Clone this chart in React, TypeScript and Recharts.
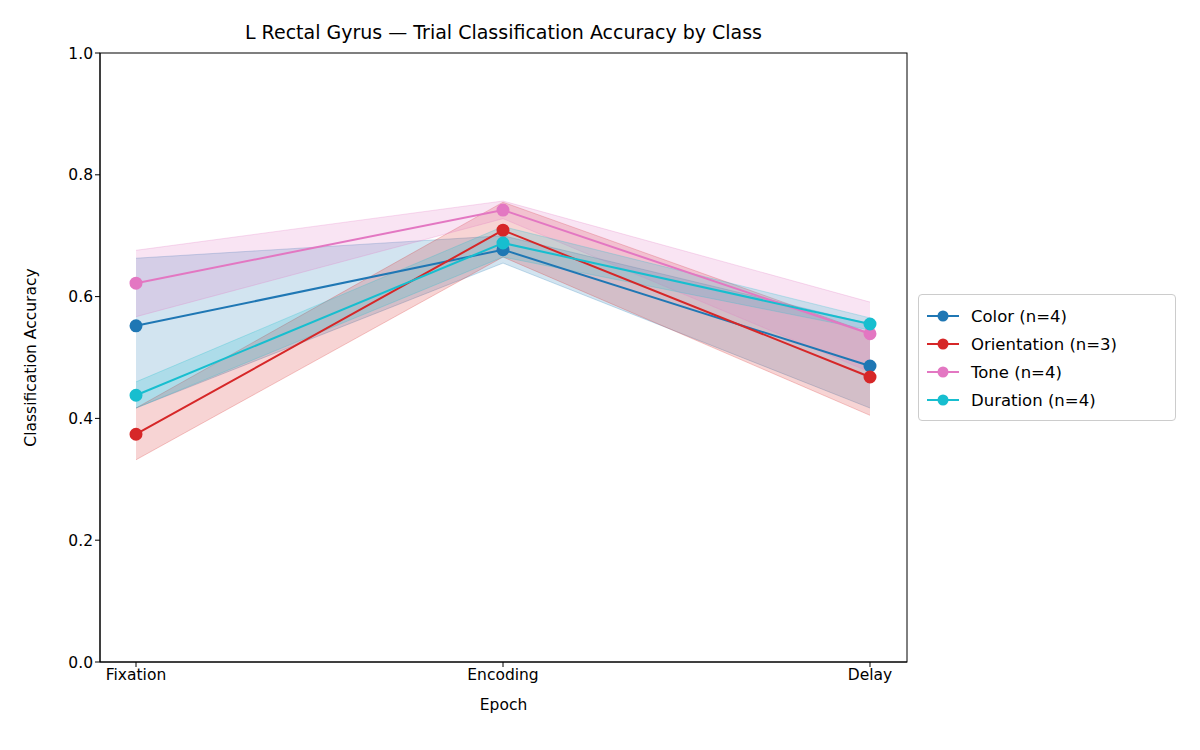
import { ComposedChart, Line, Area, XAxis, YAxis, Label } from "recharts";

const epochs = ["Fixation", "Encoding", "Delay"];

const colorMean = [0.552, 0.677, 0.486];
const colorLo = [0.417, 0.655, 0.417];
const colorHi = [0.663, 0.7, 0.555];

const orientMean = [0.374, 0.709, 0.468];
const orientLo = [0.332, 0.665, 0.405];
const orientHi = [0.417, 0.755, 0.54];

const toneMean = [0.622, 0.742, 0.539];
const toneLo = [0.567, 0.728, 0.476];
const toneHi = [0.676, 0.757, 0.591];

const durMean = [0.438, 0.688, 0.555];
const durLo = [0.417, 0.665, 0.545];
const durHi = [0.46, 0.715, 0.565];

const series = [
  { key: "color", name: "Color (n=4)", stroke: "#1f77b4", mean: colorMean, lo: colorLo, hi: colorHi },
  { key: "orient", name: "Orientation (n=3)", stroke: "#d62728", mean: orientMean, lo: orientLo, hi: orientHi },
  { key: "tone", name: "Tone (n=4)", stroke: "#e377c2", mean: toneMean, lo: toneLo, hi: toneHi },
  { key: "dur", name: "Duration (n=4)", stroke: "#17becf", mean: durMean, lo: durLo, hi: durHi },
];

const data = epochs.map((epoch, i) => {
  const row: Record<string, unknown> = { epoch };
  series.forEach((s) => {
    row[s.key] = s.mean[i];
    row[s.key + "Band"] = [s.lo[i], s.hi[i]];
  });
  return row;
});

const font = "DejaVu Sans, sans-serif";

export default function App() {
  return (
    <div style={{ position: "absolute", left: 0, top: 0, width: 1200, height: 750, background: "#fff", fontFamily: font }}>
      <div style={{ position: "absolute", top: 21, left: 100, width: 807, textAlign: "center", fontSize: 19, color: "#000" }}>
        L Rectal Gyrus — Trial Classification Accuracy by Class
      </div>
      <ComposedChart width={1200} height={750} data={data} margin={{ top: 53, right: 293, bottom: 58, left: 40 }}>
        <XAxis
          dataKey="epoch"
          height={30}
          padding={{ left: 36, right: 37 }}
          stroke="#000"
          tick={{ fill: "#000", fontSize: 15.5, fontFamily: font }}
          tickSize={5}
        >
          <Label value="Epoch" position="insideBottom" offset={-18} style={{ fill: "#000", fontSize: 15.5, fontFamily: font }} />
        </XAxis>
        <YAxis
          domain={[0, 1]}
          ticks={[0, 0.2, 0.4, 0.6, 0.8, 1]}
          tickFormatter={(v) => Number(v).toFixed(1)}
          width={60}
          stroke="#000"
          tick={{ fill: "#000", fontSize: 15.5, fontFamily: font }}
          tickSize={5}
        >
          <Label value="Classification Accuracy" angle={-90} position="insideLeft" offset={-10} style={{ fill: "#000", fontSize: 15.5, fontFamily: font, textAnchor: "middle" }} />
        </YAxis>
        {series.map((s) => (
          <Area
            key={s.key + "Band"}
            dataKey={s.key + "Band"}
            type="linear"
            stroke={s.stroke}
            strokeOpacity={0.25}
            fill={s.stroke}
            fillOpacity={0.2}
            isAnimationActive={false}
          />
        ))}
        {series.map((s) => (
          <Line
            key={s.key}
            dataKey={s.key}
            type="linear"
            stroke={s.stroke}
            strokeWidth={2}
            dot={{ r: 5.5, fill: s.stroke, stroke: s.stroke }}
            activeDot={false}
            isAnimationActive={false}
          />
        ))}
        <rect x={100} y={53} width={807} height={609} fill="none" stroke="#000" />
      </ComposedChart>
      <div
        style={{
          position: "absolute",
          left: 918,
          top: 294,
          width: 258,
          height: 127,
          border: "1px solid #ccc",
          borderRadius: 4,
          boxSizing: "border-box",
          padding: "7px 8px",
          fontSize: 16.5,
        }}
      >
        {series.map((s) => (
          <div key={s.key} style={{ display: "flex", alignItems: "center", height: 28 }}>
            <svg width={36} height={14} style={{ marginRight: 8 }}>
              <line x1={0} y1={7} x2={32} y2={7} stroke={s.stroke} strokeWidth={2} />
              <circle cx={16} cy={7} r={5.5} fill={s.stroke} />
            </svg>
            <span>{s.name}</span>
          </div>
        ))}
      </div>
    </div>
  );
}
